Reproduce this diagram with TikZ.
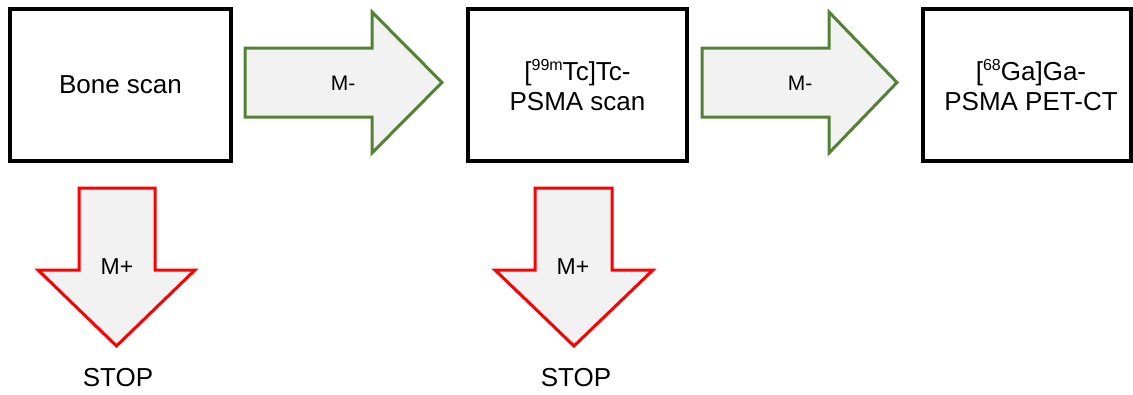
\documentclass[tikz,border=0pt]{standalone}
\usepackage{fontspec}
\setmainfont{Liberation Sans}
\newcommand{\isotope}[1]{\raisebox{0.42em}{\fontsize{16}{16}\selectfont #1}}
\definecolor{arrowgreen}{HTML}{548235}
\definecolor{arrowfill}{HTML}{F2F2F2}
\definecolor{arrowred}{HTML}{FF0000}
\tikzset{
  scanbox/.style={draw=black, line width=4pt, fill=white, align=center,
    font=\fontsize{26}{30}\selectfont, inner sep=0pt},
  goarrow/.style={draw=arrowgreen, line width=3pt, fill=arrowfill, line join=miter},
  stoparrow/.style={draw=arrowred, line width=3pt, fill=arrowfill, line join=miter},
  arrowlabel/.style={font=\fontsize{21}{24}\selectfont, inner sep=0pt},
  stoplabel/.style={font=\fontsize{26}{30}\selectfont, inner sep=0pt}
}
\begin{document}
\begin{tikzpicture}[x=1pt,y=-1pt]
\useasboundingbox (0,0) rectangle (1133,394);
% boxes
\node[scanbox, minimum width=221pt, minimum height=152pt] (bone) at (120.5,85) {Bone scan};
\node[scanbox, minimum width=219pt, minimum height=152pt] (tc) at (577.5,85) {[\isotope{99m}Tc]Tc-\\PSMA scan};
\node[scanbox, minimum width=208pt, minimum height=152pt] (ga) at (1027,85) {\hspace*{8pt}[\isotope{68}Ga]Ga-\\\hspace*{8pt}PSMA PET-CT};
% right arrows
\draw[goarrow] (245,48) -- (372,48) -- (372,12) -- (442,82.5) -- (372,153) -- (372,117) -- (245,117) -- cycle;
\node[arrowlabel] (m1) at (343,83) {M-};
\draw[goarrow] (702,48) -- (829,48) -- (829,12) -- (897,82.5) -- (829,153) -- (829,117) -- (702,117) -- cycle;
\node[arrowlabel] (m2) at (800,83) {M-};
% down arrows
\draw[stoparrow] (79,188) -- (155,188) -- (155,270) -- (195,270) -- (116.5,346) -- (38,270) -- (79,270) -- cycle;
\node[arrowlabel, font=\fontsize{23}{26}\selectfont] (p1) at (117,267) {M+};
\draw[stoparrow] (535,188) -- (612,188) -- (612,270) -- (653,270) -- (574,346) -- (495,270) -- (535,270) -- cycle;
\node[arrowlabel, font=\fontsize{23}{26}\selectfont] (p2) at (573,267) {M+};
% stop labels
\node[stoplabel] (s1) at (118,378) {STOP};
\node[stoplabel] (s2) at (576,378) {STOP};
\end{tikzpicture}
\end{document}
